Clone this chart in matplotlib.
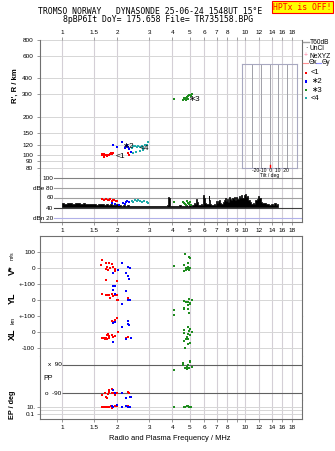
import matplotlib
matplotlib.use('Agg')
import matplotlib.pyplot as plt
from matplotlib.patches import Rectangle
from matplotlib.lines import Line2D

W, H = 335, 451
plt.rcParams['font.family'] = ['Liberation Sans', 'DejaVu Sans']
fig = plt.figure(figsize=(W / 100, H / 100), dpi=100)

# ---------------- data ----------------
freq_ticks = [1, 1.5, 2, 3, 4, 5, 6, 7, 8, 9, 10, 12, 14, 16, 18]
freq_labels_outer = ['1', '1.5', '2', '3', '4', '5', '6', '7', '8', '', '10', '12', '14', '16', '18']
freq_labels_mid = ['1', '1.5', '2', '3', '4', '5', '6', '7', '8', '9', '10', '12', '14', '16', '18']
height_ticks = [80, 90, 100, 120, 150, 200, 300, 400, 600, 800]
db_ticks = [100, 80, 60, 40, 20]
db_labels = ['100', 'dBe 80', '60', '40', 'dBn 20']
tilt_ticks = [-20, -10, 0, 10, 20]

# echo heights (R', km)
red_f = [1.65, 1.66, 1.69, 1.69, 1.70, 1.73, 1.77, 1.78, 1.81, 1.83, 1.85, 1.87, 1.89, 2.29, 2.32]
red_h = [100, 103, 103, 97, 100, 100, 98, 101, 100, 103, 105, 103, 105, 105, 101]
blue_f = [1.91, 2.00, 2.12, 2.20, 2.24, 2.27, 2.30, 2.33, 2.37]
blue_h = [120, 116, 126, 114, 118, 120, 116, 111, 106]
teal_f = [2.40, 2.43, 2.45, 2.50, 2.54, 2.56, 2.61, 2.67, 2.67, 2.73, 2.78, 2.78, 2.84, 2.90, 2.96]
teal_h = [114, 105, 118, 118, 106, 116, 118, 116, 108, 118, 114, 110, 120, 121, 126]
green_f = [4.09, 4.60, 4.64, 4.70, 4.75, 4.80, 4.85, 4.90, 4.95, 5.00, 5.05, 5.11, 4.90, 4.75]
green_h = [278, 270, 281, 278, 283, 274, 286, 290, 294, 299, 290, 300, 278, 270]

# amplitudes (dB)
red_db_f = [1.65, 1.70, 1.74, 1.78, 1.81, 1.84, 1.87, 1.90, 1.93, 1.97, 2.00]
red_db = [58, 55, 57, 56, 55, 57, 54, 56, 55, 53, 54]
blue_db_f = [1.87, 1.95, 2.05, 2.15, 2.22, 2.25, 2.28, 2.32]
blue_db = [50, 47, 46, 49, 48, 51, 53, 52]
teal_db_f = [2.40, 2.45, 2.50, 2.56, 2.61, 2.67, 2.73, 2.80, 2.90, 2.96]
teal_db = [54, 52, 55, 53, 56, 54, 51, 53, 51, 50]
green_db_f = [4.09, 4.60, 4.65, 4.70, 4.75, 4.80, 4.90, 4.95, 5.00, 5.05]
green_db = [51, 52, 50, 48, 46, 53, 50, 47, 52, 46]

noise_f = [
    1.00, 1.04, 1.08, 1.12, 1.16, 1.20, 1.24, 1.28, 1.32, 1.36, 1.40, 1.44, 1.48,
    1.52, 1.56, 1.60, 1.64, 1.68, 1.72, 1.76,
    1.80, 1.85, 1.90, 1.95, 2.00,
    2.06, 2.12, 2.18, 2.24, 2.30,
    2.37, 2.44, 2.51, 2.58, 2.66, 2.74, 2.82, 2.90,
    3.00, 3.10, 3.20, 3.30, 3.40, 3.50, 3.60, 3.70,
    3.78, 3.81, 3.84, 3.90,
    4.00, 4.10, 4.20, 4.30, 4.40, 4.50, 4.60, 4.70, 4.80, 4.90, 5.00, 5.10, 5.20, 5.30, 5.40,
    5.46, 5.52, 5.60, 5.70, 5.80, 5.90,
    5.96, 6.02, 6.10, 6.20, 6.30,
    6.36, 6.42, 6.50, 6.60, 6.70, 6.80, 6.90,
    6.98, 7.06, 7.14, 7.22, 7.30, 7.40, 7.50,
    7.60, 7.70, 7.80, 7.90, 8.00, 8.10, 8.20, 8.30, 8.40, 8.50, 8.60, 8.70, 8.80, 8.90,
    9.00, 9.15, 9.30, 9.45, 9.60, 9.75, 9.90, 10.05, 10.20, 10.35, 10.50,
    10.70, 10.90, 11.10, 11.30, 11.50, 11.70, 11.90, 12.10, 12.30, 12.50,
    12.80, 13.10, 13.40, 13.70, 14.00, 14.30, 14.60, 14.90, 15.20]
noise_db = [
    50, 48, 50, 49, 48, 50, 49, 47, 49, 48, 47, 48, 47,
    48, 46, 47, 48, 47, 46, 47,
    46, 47, 45, 46, 47,
    45, 44, 46, 44, 45,
    44, 43, 44, 43, 44, 43, 44, 43,
    44, 43, 44, 43, 43, 44, 43, 44,
    45, 62, 60, 44,
    44, 43, 44, 43, 45, 44, 43, 44, 45, 44, 46, 44, 45, 50, 48,
    57, 52, 46, 45, 47, 46,
    65, 60, 50, 47, 48,
    64, 55, 47, 46, 45, 47, 46,
    54, 50, 53, 55, 49, 47, 48,
    52, 56, 60, 54, 58, 52, 62, 57, 55, 60, 53, 58, 61, 55,
    62, 57, 63, 59, 65, 60, 66, 67, 62, 64, 56,
    52, 48, 50, 47, 55, 58, 64, 60, 52, 49,
    50, 47, 48, 46, 47, 45, 50, 46, 47]

# V* (m/s)
red_v_f = [1.65, 1.64, 1.74, 1.81, 1.87, 1.76, 1.74, 1.78, 1.95, 1.83, 1.89, 1.73, 1.99, 1.95]
red_v = [50, 19, 31, 31, 25, 6, -6, -12, -6, 0, 6, -75, -81, -21]
blue_v_f = [2.12, 2.30, 2.35, 2.03, 1.91, 2.24, 2.29, 2.33]
blue_v = [33, 8, 2, -14, -33, -33, -52, -69]
green_v_f = [4.70, 4.95, 4.98, 4.09, 4.64, 4.90, 4.86, 4.98, 5.03, 4.74, 4.90, 4.64, 4.78, 4.95]
green_v = [85, 71, 65, 15, 19, 30, 4, -2, 0, -2, -6, -19, -12, -12]

# YL (km)
red_yl_f = [1.65, 1.74, 1.78, 1.81, 1.87, 1.91, 1.95, 2.00, 2.03, 1.89, 2.00, 2.29, 2.30, 1.76, 1.83]
red_yl = [35, 31, 31, 31, 35, 23, 31, 31, 2, 65, -2, 2, 12, 31, 12]
blue_yl_f = [1.91, 1.95, 1.91, 1.95, 2.24, 2.30, 2.35, 2.12]
blue_yl = [90, 90, 62, 35, 56, -2, 2, -27]
green_yl_f = [4.64, 4.74, 4.90, 4.95, 5.11, 5.00, 4.90, 4.64, 4.64, 4.90, 4.95, 4.09, 4.09, 4.80, 5.03]
green_yl = [-6, -15, -15, 6, 0, -27, -31, -48, -56, -56, -79, -62, -94, -10, -21]

# XL (km)
red_xl_f = [1.99, 1.95, 1.87, 1.91, 1.76, 1.78, 1.81, 1.87, 1.91, 1.74, 1.69, 1.76, 1.81, 1.95, 2.03, 2.30, 2.25, 1.65, 1.72]
red_xl = [90, 75, 69, 60, -19, -15, -23, -19, -29, -36, -40, -44, -40, -23, 0, -29, -36, -36, -46]
blue_xl_f = [1.95, 1.91, 2.12, 2.30, 2.30, 2.33, 2.37, 2.24, 1.91]
blue_xl = [60, 54, 33, 69, 48, 44, -36, -44, -65]
green_xl_f = [4.90, 5.03, 4.64, 4.95, 5.11, 4.64, 4.90, 5.03, 4.80, 4.74, 4.64, 4.90, 5.00, 4.90, 4.70]
green_xl = [33, 19, 12, 6, -2, -8, -15, -19, -29, -44, -56, -44, -71, -77, -98]

# PP (deg)
red_pp_f = [1.65, 1.72, 1.74, 1.76, 1.78, 1.81, 1.87, 1.91, 1.95, 1.99, 1.81, 1.87, 2.29, 2.33, 1.77]
red_pp = [-101, -90, -111, -122, -94, -80, -90, -86, -101, -90, -69, -65, -80, -90, -122]
blue_pp_f = [1.89, 1.95, 2.12, 2.24, 2.35, 2.37]
blue_pp = [-69, -90, -86, -118, -111, -111]
green_pp_f = [4.09, 4.60, 4.60, 4.70, 4.80, 4.90, 5.00, 5.03, 4.95, 5.11, 4.80]
green_pp = [58, 105, 90, 69, 79, 90, 111, 117, 69, 79, 63]

# EP (deg)
red_ep_f = [1.65, 1.70, 1.74, 1.78, 1.81, 1.85, 1.87, 1.91, 1.95, 2.00, 2.29, 2.33]
red_ep = [10, 8, 10, 7, 10, 12, 6, 8, 15, 20, 12, 8]
blue_ep_f = [1.87, 1.91, 2.00, 2.12, 2.24, 2.30, 2.35]
blue_ep = [12, 8, 25, 10, 12, 7, 10]
green_ep_f = [4.09, 4.64, 4.70, 4.80, 4.90, 4.95, 5.00, 5.05]
green_ep = [8, 10, 7, 12, 15, 9, 10, 8]

# ---------------- style ----------------
RED, BLUE, GREEN, TEAL = '#ff0000', '#0000ff', '#1e8c1e', '#20aaaa'
GRID_V = '#d4cfd6'
GRID_H = '#d6d6d6'
SPINE = '#707070'
XLIM = (0.758, 20.5)
TFS = 4.6
MS = 1.7


def rect(x0, y0, x1, y1):
    return [x0 / W, 1 - y1 / H, (x1 - x0) / W, (y1 - y0) / H]


def ftxt(x, y, s, **kw):
    kw.setdefault('fontsize', TFS)
    kw.setdefault('va', 'center')
    return fig.text(x / W, 1 - y / H, s, **kw)


def base_axes(r):
    ax = fig.add_axes(r)
    ax.set_xscale('log')
    ax.set_xlim(*XLIM)
    ax.set_facecolor('white')
    for s in ax.spines.values():
        s.set_color(SPINE)
        s.set_linewidth(0.8)
    ax.set_xticks(freq_ticks)
    ax.set_xticks([], minor=True)
    ax.set_yticks([], minor=True)
    ax.tick_params(axis='both', labelsize=TFS, length=2, width=0.5, color=SPINE, pad=1.5)
    for f in freq_ticks:
        ax.axvline(f, color=GRID_V, lw=0.8, zorder=0)
    return ax


def sq(ax, x, y, c):
    ax.plot(x, y, 's', color=c, ms=MS, mew=0, zorder=3)


# ---------------- top panel ----------------
ax1 = base_axes(rect(40, 40, 302, 175))
ax1.set_yscale('log')
ax1.set_ylim(70, 800)
ax1.set_yticks(height_ticks)
ax1.set_yticklabels([str(v) for v in height_ticks])
ax1.set_yticks([], minor=True)
ax1.xaxis.tick_top()
ax1.set_xticklabels(freq_labels_outer)
ax1.tick_params(axis='x', pad=1.5)
ax1.tick_params(axis='y', pad=3)
ax1.spines['top'].set_visible(False)
ax1.spines['bottom'].set_visible(False)
for h in height_ticks:
    ax1.axhline(h, color=GRID_H, lw=0.7, zorder=0)
sq(ax1, red_f, red_h, RED)
sq(ax1, blue_f, blue_h, BLUE)
sq(ax1, teal_f, teal_h, TEAL)
sq(ax1, green_f, green_h, GREEN)
ax1.text(1.96, 97, '<1', fontsize=6, color='k', va='center', ha='left')
ax1.text(2.16, 118, '\u22172', fontsize=6, color='k', va='center', ha='left')
ax1.text(2.66, 112, '<4', fontsize=6, color='k', va='center', ha='left')
ax1.text(4.95, 271, '\u22173', fontsize=6, color='k', va='center', ha='left')

# tilt inset
axT = fig.add_axes(rect(242, 64, 297, 168))
axT.set_xlim(-31, 31)
axT.set_ylim(0, 1)
axT.set_xticks([])
axT.set_yticks([])
axT.patch.set_alpha(0)
for s in axT.spines.values():
    s.set_color('#a8a8c0')
    s.set_linewidth(0.8)
for t in tilt_ticks:
    axT.axvline(t, color='#a0a0a8', lw=0.7)
axT.plot([0, 0], [0, 0.03], color=RED, lw=1.0, clip_on=False)
ftxt(270, 170.5, '-20-10  0  10  20', fontsize=3.6, ha='center')
ftxt(270, 175.5, 'Tilt / deg', fontsize=3.6, ha='center')

# ---------------- dB panel ----------------
ax2 = base_axes(rect(40, 175, 302, 222))
ax2.set_ylim(12, 106)
ax2.set_yticks([])
ax2.set_xticklabels(freq_labels_mid)
ax2.tick_params(axis='x', pad=2)
ax2.spines['top'].set_visible(False)
x0f = (54 - 40) / 262
line_cols = {100: '#808080', 80: '#a0a0a0', 60: '#a0a0a0', 40: '#404040', 20: '#b0b0e8'}
for v, lab in zip(db_ticks, db_labels):
    ax2.axhline(v, xmin=x0f, color=line_cols[v], lw=0.8, zorder=1)
    ftxt(53.5, 178 + (100 - v) * 0.5, lab, ha='right', fontsize=TFS)
ax2.fill_between(noise_f, 41, noise_db, step='mid', color='k', lw=0.5, zorder=2)
sq(ax2, red_db_f, red_db, RED)
sq(ax2, blue_db_f, blue_db, BLUE)
sq(ax2, teal_db_f, teal_db, TEAL)
sq(ax2, green_db_f, green_db, GREEN)

# ---------------- bottom panels ----------------
def band(r, ylim, ticks, labels, hl, top=False, bottom=False, log=False):
    ax = base_axes(r)
    if log:
        ax.set_yscale('log')
    ax.set_ylim(*ylim)
    ax.set_yticks(ticks)
    ax.set_yticklabels(labels)
    ax.set_yticks([], minor=True)
    ax.spines['top'].set_visible(top)
    ax.spines['bottom'].set_visible(bottom)
    if not bottom:
        ax.tick_params(axis='x', bottom=False, labelbottom=False)
    for v in hl:
        ax.axhline(v, color=GRID_H, lw=0.7, zorder=0)
    return ax


axV = band(rect(40, 236, 302, 284), (-100, 200), [100, 0], ['100', '0'], [100, 0], top=True)
axY = band(rect(40, 284, 302, 316), (-100, 100), [100, 0], ['+-100', '0'], [100, 0, -100])
axX = band(rect(40, 316, 302, 356), (-150, 100), [100, 0, -100], ['+-100', '0', '-100'], [0, -100])
axP = band(rect(40, 356, 302, 400), (-132.6, 147.2), [], [], [])
axE = band(rect(40, 400, 302, 419), (0.0058, 575), [10, 0.1], ['10.', '0.1'], [10, 0.1, 1],
           bottom=True, log=True)
axE.set_xticklabels(freq_labels_outer)
axE.tick_params(axis='x', pad=2)
for v in (90, -90):
    axP.hlines(v, 1.0, XLIM[1], color='#606060', lw=0.8, zorder=1)

for ax, (rf, rv), (bf, bv), (gf, gv) in [
        (axV, (red_v_f, red_v), (blue_v_f, blue_v), (green_v_f, green_v)),
        (axY, (red_yl_f, red_yl), (blue_yl_f, blue_yl), (green_yl_f, green_yl)),
        (axX, (red_xl_f, red_xl), (blue_xl_f, blue_xl), (green_xl_f, green_xl)),
        (axP, (red_pp_f, red_pp), (blue_pp_f, blue_pp), (green_pp_f, green_pp)),
        (axE, (red_ep_f, red_ep), (blue_ep_f, blue_ep), (green_ep_f, green_ep))]:
    sq(ax, rf, rv, RED)
    sq(ax, bf, bv, BLUE)
    sq(ax, gf, gv, GREEN)

ftxt(61.5, 365, 'x  90', ha='right')
ftxt(61.5, 393.5, 'o  -90', ha='right')
ftxt(43, 379, 'PP', ha='left', fontsize=5)

# axis labels
ftxt(15, 86, "R', R / km", rotation=90, ha='center', fontsize=5.6, fontweight='bold')
ftxt(12, 270, 'V*', rotation=90, ha='center', fontsize=6.5, fontweight='bold')
ftxt(12, 256, 'm/s', rotation=90, ha='center', fontsize=3.8)
ftxt(12, 298, 'YL', rotation=90, ha='center', fontsize=6.5, fontweight='bold')
ftxt(13, 320, 'km', rotation=90, ha='center', fontsize=3.8)
ftxt(12, 334, 'XL', rotation=90, ha='center', fontsize=6.5, fontweight='bold')
ftxt(13, 405, 'EP / deg', rotation=90, ha='center', fontsize=5.2, fontweight='bold')
ftxt(170, 439, 'Radio and Plasma Frequency / MHz', ha='center', fontsize=5.4)

# title
ftxt(150, 12, 'TROMSO NORWAY   DYNASONDE 25-06-24 1548UT 15\u00b0E', ha='center',
     fontsize=5.9, family='DejaVu Sans Mono')
ftxt(158, 20, '8pBP6It DoY= 175.658 File= TR735158.BPG', ha='center',
     fontsize=5.9, family='DejaVu Sans Mono')
fig.patches.append(Rectangle((271.5 / W, 1 - 12.5 / H), 61 / W, 11 / H, transform=fig.transFigure,
                             facecolor='#ffff00', edgecolor='#ff0000', lw=0.8))
ftxt(302, 7, 'HPTx is OFF!', ha='center', fontsize=5.9, family='DejaVu Sans Mono', color='#ff0000')

# legend
def fline(x0, x1, y, c, lw=0.8):
    fig.lines.append(Line2D([x0 / W, x1 / W], [1 - y / H, 1 - y / H], transform=fig.transFigure,
                            color=c, lw=lw))

fline(303, 309, 42, '#a0a0a0', 1.0)
ftxt(310, 42, 'T60dB', ha='left', fontsize=4.8)
ftxt(306, 49, '\u00b7', ha='center', fontsize=5)
ftxt(310, 49, 'UnCl', ha='left', fontsize=4.8)
ftxt(306, 56, '+', ha='center', fontsize=5, color='#ff80a0')
ftxt(310, 56, 'NeXYZ', ha='left', fontsize=4.8)
fline(303, 308, 63, '#ff9090')
ftxt(308.5, 63, '\u0398x', ha='left', fontsize=4.8)
fline(316, 321, 63, '#9090ff')
ftxt(321.5, 63, '\u0398y', ha='left', fontsize=4.8)
for yy, c, lab in [(73, RED, '<1'), (81.5, BLUE, '\u22172'), (90, GREEN, '\u22173'), (98, TEAL, '<4')]:
    fig.patches.append(Rectangle((304.5 / W, 1 - (yy + 1.2) / H), 2.4 / W, 2.4 / H,
                                 transform=fig.transFigure, facecolor=c, edgecolor='none'))
    ftxt(311, yy, lab, ha='left', fontsize=5.5)

fig.savefig('out.png', dpi=100)
